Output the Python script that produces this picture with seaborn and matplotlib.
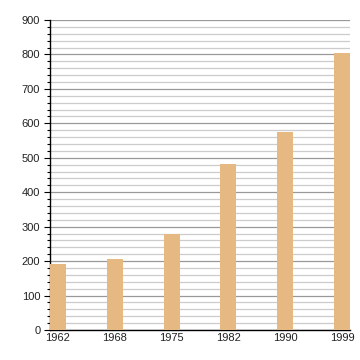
import matplotlib
matplotlib.use("Agg")
import matplotlib.pyplot as plt
import seaborn as sns
import pandas as pd
from matplotlib.ticker import MultipleLocator

years = ["1962", "1968", "1975", "1982", "1990", "1999"]
values = [193, 206, 278, 483, 576, 805]

df = pd.DataFrame({"year": years, "value": values})

sns.set_theme(style="white")
plt.rcParams['font.family'] = ['Liberation Sans', 'DejaVu Sans']

fig = plt.figure(figsize=(3.6, 3.6), dpi=100)
ax = fig.add_axes([50/360, 30/360, 300/360, 310/360])

sns.barplot(data=df, x="year", y="value", color="#e6b882", saturation=1,
            width=0.28, ax=ax, zorder=3, linewidth=0, edgecolor="none")

ax.set_xlim(-0.14, 5.14)
ax.set_ylim(0, 900)
ax.yaxis.set_major_locator(MultipleLocator(100))
ax.yaxis.set_minor_locator(MultipleLocator(20))
ax.grid(which="major", axis="y", color="#999999", linewidth=0.9, zorder=0)
ax.grid(which="minor", axis="y", color="#cccccc", linewidth=0.9, zorder=0)
ax.set_axisbelow(True)
ax.set_xlabel("")
ax.set_ylabel("")
for s in ["top", "right"]:
    ax.spines[s].set_visible(False)
for s in ["left", "bottom"]:
    ax.spines[s].set_color("black")
    ax.spines[s].set_linewidth(1.0)
ax.tick_params(axis="y", which="major", left=True, length=4, width=0.8, color="black",
               labelsize=8, pad=3, labelcolor="#222222")
ax.tick_params(axis="y", which="minor", left=True, length=2.5, width=0.8, color="black")
ax.tick_params(axis="x", bottom=False, length=0, labelsize=8, pad=2, labelcolor="#222222")

fig.savefig("out.png", dpi=100)
